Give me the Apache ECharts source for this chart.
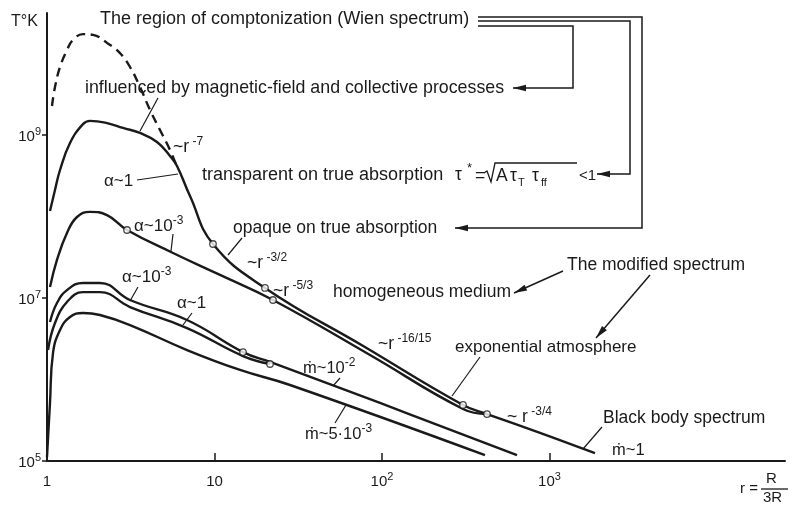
<!DOCTYPE html>
<html>
<head>
<meta charset="utf-8">
<script src="https://cdn.jsdelivr.net/npm/echarts@6/dist/echarts.min.js"></script>
<style>
  html, body { margin: 0; padding: 0; background: #fff; }
  #chart { width: 790px; height: 509px; }
</style>
</head>
<body>
<div id="chart"></div>
<script>
// Accretion-disc surface temperature T (K) against r = R / 3R_g, log-log.

// Comptonization region (dashed)
const rDashed = [1.071, 1.116, 1.196, 1.316, 1.430, 1.640, 1.882, 2.282, 2.728, 3.130, 3.592, 4.121, 4.728, 5.425, 5.973];
const tDashed = [2.27e9, 3.88e9, 6.83e9, 1.10e10, 1.47e10, 1.73e10, 1.69e10, 1.35e10, 1.01e10, 6.83e9, 3.88e9, 2.03e9, 1.15e9, 6.55e8, 4.05e8];

// alpha ~ 1, mdot ~ 1
const rAlpha1Mdot1 = [1.042, 1.116, 1.196, 1.372, 1.640, 1.806, 2.282, 2.843, 3.592, 4.536, 5.425, 5.973, 7.141, 9.795, 20.02, 78.1, 304.5, 423.6, 877.7, 1869];
const tAlpha1Mdot1 = [1.17e8, 2.11e8, 3.72e8, 7.98e8, 1.36e9, 1.49e9, 1.40e9, 1.22e9, 1.06e9, 8.21e8, 5.53e8, 4.17e8, 1.78e8, 4.60e7, 1.33e7, 2.54e6, 4.87e5, 3.77e5, 2.21e5, 1.25e5];

// alpha ~ 1e-3, mdot ~ 1
const rAlpha3Mdot1 = [1.042, 1.147, 1.316, 1.511, 1.806, 2.282, 3.004, 5.652, 10.79, 22.35, 84.8, 304.5, 423.6];
const tAlpha3Mdot1 = [1.36e7, 2.93e7, 6.27e7, 9.86e7, 1.14e8, 1.04e8, 6.83e7, 3.57e7, 1.92e7, 9.45e6, 2.00e6, 4.35e5, 3.77e5];

// alpha ~ 1e-3, mdot ~ 1e-2
const rAlpha3Mdot2 = [1.042, 1.147, 1.316, 1.640, 2.073, 3.130, 6.853, 14.80, 21.45, 97.3, 639.7];
const tAlpha3Mdot2 = [5.08e6, 8.68e6, 1.25e7, 1.53e7, 1.53e7, 9.45e6, 5.37e6, 2.17e6, 1.64e6, 5.15e5, 1.18e5];

// alpha ~ 1, mdot ~ 1e-2
const rAlpha1Mdot2 = [1.014, 1.116, 1.316, 1.640, 2.073, 3.130, 6.853, 14.80, 21.45];
const tAlpha1Mdot2 = [2.30e6, 4.93e6, 8.93e6, 1.18e7, 1.18e7, 7.75e6, 4.28e6, 1.94e6, 1.55e6];

// mdot ~ 5e-3
const rMdot5e3 = [1.0, 1.042, 1.086, 1.196, 1.372, 1.640, 2.073, 3.130, 6.853, 14.20, 28.23, 412.0];
const tMdot5e3 = [1.12e5, 5.15e5, 2.11e6, 4.05e6, 5.85e6, 6.55e6, 6.18e6, 4.66e6, 2.30e6, 1.31e6, 8.56e5, 1.18e5];

// Zone boundaries (open circles)
const rBoundary = [9.795, 20.02, 304.5, 3.004, 22.35, 423.6, 14.80, 21.45];
const tBoundary = [4.60e7, 1.33e7, 4.87e5, 6.83e7, 9.45e6, 3.77e5, 2.17e6, 1.55e6];

// Axis ticks
const xTickValues = [10, 100, 1000];
const xLabelValues = [1, 10, 100, 1000];
const yTickValues = [1e5, 1e7, 1e9];

const INK = '#1a1a1a';
const FONT = '"Liberation Sans", "DejaVu Sans", Arial, sans-serif';

const zip = (xs, ys) => xs.map((x, i) => [x, ys[i]]);

function curve(name, rs, ts, dashed) {
  return {
    name, type: 'line', data: zip(rs, ts),
    showSymbol: false, symbol: 'none',
    smooth: 0.45,
    lineStyle: { color: INK, width: 2.4, type: dashed ? [9, 6] : 'solid' },
    z: 3, silent: true
  };
}

const axisRich = {
  b: { fontSize: 15, fontFamily: FONT, color: INK, lineHeight: 18, verticalAlign: 'bottom' },
  s: { fontSize: 11, fontFamily: FONT, color: INK, lineHeight: 11, verticalAlign: 'top' }
};

const textRich = (size) => ({
  b: { fontSize: size, fontFamily: FONT, fill: INK, lineHeight: 22, verticalAlign: 'middle' },
  s: { fontSize: Math.round(size * 0.7), fontFamily: FONT, fill: INK, lineHeight: 12, verticalAlign: 'top' }
});

function txt(x, y, text, size) {
  size = size || 17.5;
  return {
    type: 'text', x, y, z: 10, silent: true,
    style: { text, fontSize: size, fontFamily: FONT, fill: INK, lineHeight: 22,
             align: 'left', verticalAlign: 'middle', rich: textRich(size) }
  };
}

function seg(x1, y1, x2, y2, w) {
  return { type: 'line', z: 9, silent: true, shape: { x1, y1, x2, y2 },
           style: { stroke: INK, lineWidth: w || 1.2 } };
}

function poly(points, w) {
  return { type: 'polyline', z: 9, silent: true, shape: { points },
           style: { stroke: INK, lineWidth: w || 1.5, fill: null } };
}

function head(tx, ty, fx, fy) {
  const dx = tx - fx, dy = ty - fy, L = Math.hypot(dx, dy);
  const ux = dx / L, uy = dy / L, len = 13, half = 3.2;
  const bx = tx - ux * len, by = ty - uy * len;
  return { type: 'polygon', z: 9, silent: true,
           shape: { points: [[tx, ty], [bx - uy * half, by + ux * half], [bx + uy * half, by - ux * half]] },
           style: { fill: INK } };
}

function arrow(points) {
  const n = points.length;
  const tip = points[n - 1], prev = points[n - 2];
  return [poly(points, 1.5), head(tip[0], tip[1], prev[0], prev[1])];
}

const graphics = [
  txt(11, 22, '{b|T°K}', 16),
  txt(100, 19, '{b|The region of comptonization (Wien spectrum)}', 18),
  txt(85, 88, '{b|influenced by magnetic-field and collective processes}', 17.8),
  txt(202, 175, '{b|transparent on true absorption}', 18),
  txt(233, 228, '{b|opaque on true absorption}'),
  txt(173, 147, '{b|~r}{s| -7}'),
  txt(104, 181, '{b|α~1}', 17),
  txt(134, 226, '{b|α~10}{s|-3}', 17),
  txt(247, 263, '{b|~r}{s| -3/2}'),
  txt(273, 291, '{b|~r}{s| -5/3}'),
  txt(333, 292, '{b|homogeneous medium}'),
  txt(567, 265, '{b|The modified spectrum}'),
  txt(378, 344, '{b|~r}{s| -16/15}'),
  txt(455, 347, '{b|exponential atmosphere}', 17),
  txt(507, 417, '{b|~ r}{s| -3/4}'),
  txt(603, 418, '{b|Black body spectrum}'),
  txt(612, 450, '{b|ṁ~1}', 16.5),
  txt(303, 368, '{b|ṁ~10}{s|-2}', 16.5),
  txt(305, 434, '{b|ṁ~5·10}{s|-3}', 16.5),
  txt(122, 277, '{b|α~10}{s|-3}', 17),
  txt(177, 303, '{b|α~1}', 17),

  // optical-depth criterion
  txt(455, 175, '{b|τ}'),
  txt(467, 168, '{b|*}', 13),
  txt(475, 176, '{b|=}'),
  poly([[484, 173], [487, 171], [491, 182], [495, 163], [577, 163]], 1.3),
  txt(496, 176, '{b|A}'),
  txt(510, 176, '{b|τ}'),
  txt(518, 183, '{b|T}', 11),
  txt(532, 176, '{b|τ}'),
  txt(541, 183, '{b|ff}', 11),
  txt(579, 176, '{b|<1}', 15),

  // axis title r = R / 3R
  txt(740, 489, '{b|r =}', 15),
  txt(766, 479, '{b|R}', 15),
  txt(763, 498, '{b|3R}', 15),
  seg(761, 489, 788, 489, 1.3),

  // leaders
  seg(158, 98, 140, 131),
  seg(137, 180, 178, 174),
  seg(173, 234, 171, 251),
  seg(242, 238, 228, 255),
  seg(480, 357, 452, 396),
  seg(602, 427, 583, 449),
  seg(340, 378, 333, 386),
  seg(335, 423, 346, 405),
  seg(138, 287, 130, 301),
  seg(192, 313, 183, 325)
]
  // brackets from the comptonization label
  .concat(arrow([[478, 17], [642, 17], [642, 228], [455, 228]]))
  .concat(arrow([[478, 21], [630, 21], [630, 174], [597, 174]]))
  .concat(arrow([[478, 26], [573, 26], [573, 88], [513, 88]]))
  // modified-spectrum pointers
  .concat(arrow([[563, 271], [514, 293]]))
  .concat(arrow([[650, 275], [596, 338]]));

const chart = echarts.init(document.getElementById('chart'), null, { renderer: 'canvas' });

chart.setOption({
  animation: false,
  backgroundColor: '#fff',
  grid: { left: 47, right: 5, top: 13, bottom: 48, containLabel: false, outerBoundsMode: 'none' },
  xAxis: {
    type: 'log', logBase: 10, min: 1, max: 25470,
    axisLine: { lineStyle: { color: INK, width: 2 } },
    axisTick: { show: true, inside: true, length: 8, customValues: xTickValues, lineStyle: { color: INK, width: 1.5 } },
    axisLabel: {
      customValues: xLabelValues, margin: 10, color: INK, fontFamily: FONT, fontSize: 15,
      showMinLabel: true,
      formatter: (v) => {
        const e = Math.round(Math.log10(v));
        return e < 2 ? '{b|' + Math.round(v) + '}' : '{b|10}{s|' + e + '}';
      },
      rich: axisRich
    },
    splitLine: { show: false }, minorTick: { show: false }
  },
  yAxis: {
    type: 'log', logBase: 10, min: 1e5, max: 3.14e10,
    axisLine: { lineStyle: { color: INK, width: 2 } },
    axisTick: { show: true, inside: false, length: 5, customValues: yTickValues, lineStyle: { color: INK, width: 1.5 } },
    axisLabel: {
      customValues: yTickValues, margin: 6, color: INK, fontFamily: FONT, fontSize: 15,
      showMinLabel: true,
      formatter: (v) => '{b|10}{s|' + Math.round(Math.log10(v)) + '}',
      rich: axisRich
    },
    splitLine: { show: false }, minorTick: { show: false }
  },
  series: [
    curve('comptonization', rDashed, tDashed, true),
    curve('alpha1-mdot1', rAlpha1Mdot1, tAlpha1Mdot1),
    curve('alpha1e-3-mdot1', rAlpha3Mdot1, tAlpha3Mdot1),
    curve('alpha1e-3-mdot1e-2', rAlpha3Mdot2, tAlpha3Mdot2),
    curve('alpha1-mdot1e-2', rAlpha1Mdot2, tAlpha1Mdot2),
    curve('mdot5e-3', rMdot5e3, tMdot5e3),
    {
      name: 'boundaries', type: 'scatter', data: zip(rBoundary, tBoundary),
      symbol: 'circle', symbolSize: 6.5, z: 5, silent: true,
      itemStyle: { color: '#fff', borderColor: INK, borderWidth: 1.3 }
    }
  ],
  graphic: { elements: graphics }
});
</script>
</body>
</html>
